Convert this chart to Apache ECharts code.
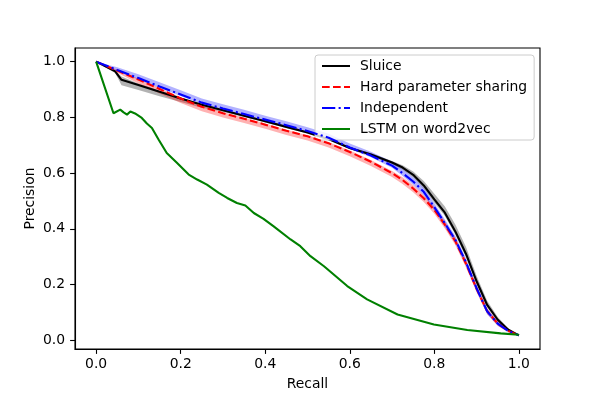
<!DOCTYPE html>
<html>
<head>
<meta charset="utf-8">
<script src="https://cdn.jsdelivr.net/npm/echarts@6/dist/echarts.min.js"></script>
<style>html,body{margin:0;padding:0;background:#fff}#c{width:600px;height:400px}</style>
</head>
<body>
<div id="c"></div>
<script>
const xTicks = [0, 0.2, 0.4, 0.6, 0.8, 1.0];
const yTicks = [0, 0.2, 0.4, 0.6, 0.8, 1.0];
const seriesNames = ['Sluice', 'Hard parameter sharing', 'Independent', 'LSTM on word2vec'];

const sluiceX = [0, 0.045, 0.06, 0.1, 0.15, 0.2, 0.25, 0.3, 0.35, 0.4, 0.45, 0.5, 0.55, 0.6, 0.65, 0.7, 0.725, 0.75, 0.775, 0.8, 0.825, 0.85, 0.875, 0.9, 0.925, 0.95, 0.975, 1.0];
const sluiceY = [1.0, 0.965, 0.935, 0.916, 0.892, 0.868, 0.845, 0.826, 0.806, 0.786, 0.766, 0.746, 0.722, 0.69, 0.667, 0.638, 0.62, 0.594, 0.556, 0.506, 0.458, 0.39, 0.31, 0.212, 0.127, 0.074, 0.038, 0.018];
const sluiceUp = [0, 0.003, 0.012, 0.006, 0.004, 0.003, 0.003, 0.003, 0.003, 0.003, 0.003, 0.003, 0.003, 0.004, 0.005, 0.006, 0.008, 0.012, 0.016, 0.02, 0.022, 0.025, 0.025, 0.02, 0.015, 0.01, 0.005, 0];
const sluiceLo = [0, 0.006, 0.02, 0.018, 0.016, 0.013, 0.01, 0.006, 0.005, 0.004, 0.004, 0.004, 0.004, 0.004, 0.005, 0.006, 0.008, 0.01, 0.012, 0.012, 0.012, 0.012, 0.012, 0.01, 0.008, 0.006, 0.003, 0];

const mtlX = [0, 0.05, 0.1, 0.15, 0.2, 0.25, 0.3, 0.35, 0.4, 0.45, 0.5, 0.55, 0.6, 0.65, 0.7, 0.725, 0.75, 0.775, 0.8, 0.825, 0.85, 0.875, 0.9, 0.925, 0.95, 0.975, 1.0];
const hardY = [1.0, 0.968, 0.936, 0.902, 0.868, 0.838, 0.815, 0.795, 0.774, 0.752, 0.732, 0.707, 0.676, 0.641, 0.6, 0.575, 0.545, 0.51, 0.468, 0.415, 0.355, 0.275, 0.185, 0.105, 0.06, 0.034, 0.018];
const hardUp = [0, 0.003, 0.004, 0.004, 0.004, 0.004, 0.004, 0.004, 0.004, 0.004, 0.004, 0.004, 0.005, 0.006, 0.008, 0.01, 0.012, 0.012, 0.012, 0.012, 0.012, 0.012, 0.012, 0.01, 0.008, 0.005, 0];
const hardLo = [0, 0.008, 0.014, 0.016, 0.016, 0.016, 0.015, 0.015, 0.015, 0.015, 0.015, 0.015, 0.015, 0.015, 0.014, 0.014, 0.014, 0.014, 0.014, 0.014, 0.014, 0.014, 0.012, 0.01, 0.008, 0.005, 0];

const indepY = [1.0, 0.97, 0.941, 0.911, 0.882, 0.853, 0.832, 0.812, 0.792, 0.772, 0.751, 0.727, 0.692, 0.663, 0.627, 0.6, 0.57, 0.533, 0.478, 0.42, 0.36, 0.28, 0.187, 0.104, 0.06, 0.034, 0.018];
const indepUp = [0, 0.01, 0.014, 0.015, 0.015, 0.015, 0.015, 0.015, 0.014, 0.014, 0.014, 0.014, 0.014, 0.014, 0.014, 0.014, 0.014, 0.014, 0.014, 0.014, 0.014, 0.014, 0.012, 0.01, 0.008, 0.005, 0];
const indepLo = [0, 0.004, 0.005, 0.005, 0.005, 0.005, 0.005, 0.005, 0.005, 0.005, 0.005, 0.005, 0.005, 0.006, 0.008, 0.01, 0.012, 0.012, 0.012, 0.012, 0.012, 0.012, 0.012, 0.01, 0.008, 0.005, 0];

const lstmX = [0, 0.041, 0.057, 0.065, 0.073, 0.081, 0.092, 0.108, 0.12, 0.132, 0.148, 0.167, 0.191, 0.219, 0.239, 0.262, 0.29, 0.31, 0.333, 0.353, 0.373, 0.396, 0.42, 0.46, 0.483, 0.507, 0.539, 0.594, 0.641, 0.713, 0.799, 0.878, 0.957, 1.0];
const lstmY = [1.0, 0.815, 0.828, 0.818, 0.81, 0.821, 0.814, 0.798, 0.778, 0.762, 0.72, 0.672, 0.637, 0.595, 0.577, 0.559, 0.529, 0.511, 0.493, 0.484, 0.457, 0.436, 0.409, 0.362, 0.338, 0.302, 0.266, 0.195, 0.147, 0.093, 0.057, 0.037, 0.025, 0.02];

const FONT = 'DejaVu Sans';
const FS = 13.9;

function pairs(xs, ys) { return xs.map((x, i) => [x, ys[i]]); }

// Shaded band: one polygon built from the data through the axis scales (api.coord)
function bandSeries(id, xs, ys, up, lo, color) {
  const data = xs.map((x, i) => [x, ys[i] - lo[i], ys[i] + up[i]]);
  return {
    name: id, type: 'custom', silent: true, z: 1,
    data: data,
    encode: { x: 0, y: [1, 2] },
    renderItem: function (params, api) {
      if (params.dataIndexInside !== 0) return null;
      const n = params.dataInsideLength;
      const top = [], bot = [];
      for (let i = 0; i < n; i++) {
        const x = api.value(0, i);
        top.push(api.coord([x, api.value(2, i)]));
        bot.push(api.coord([x, api.value(1, i)]));
      }
      const pts = top.concat(bot.reverse());
      return {
        type: 'polygon',
        shape: { points: pts },
        style: { fill: color, stroke: null }
      };
    }
  };
}

const series = [
  bandSeries('sb', sluiceX, sluiceY, sluiceUp, sluiceLo, 'rgba(0,0,0,0.3)'),
  bandSeries('hb', mtlX, hardY, hardUp, hardLo, 'rgba(255,0,0,0.3)'),
  bandSeries('ib', mtlX, indepY, indepUp, indepLo, 'rgba(0,0,255,0.3)'),
  { name: seriesNames[0], type: 'line', data: pairs(sluiceX, sluiceY), symbol: 'none', showSymbol: false, z: 3,
    lineStyle: { color: '#000000', width: 2.1 }, itemStyle: { color: '#000000' } },
  { name: seriesNames[1], type: 'line', data: pairs(mtlX, hardY), symbol: 'none', showSymbol: false, z: 4,
    lineStyle: { color: '#ff0000', width: 2.1, type: [7.7, 3.3] }, itemStyle: { color: '#ff0000' } },
  { name: seriesNames[2], type: 'line', data: pairs(mtlX, indepY), symbol: 'none', showSymbol: false, z: 4,
    lineStyle: { color: '#0000ff', width: 2.1, type: [13.3, 3.3, 2.1, 3.3] }, itemStyle: { color: '#0000ff' } },
  { name: seriesNames[3], type: 'line', data: pairs(lstmX, lstmY), symbol: 'none', showSymbol: false, z: 5,
    lineStyle: { color: '#008000', width: 2.1 }, itemStyle: { color: '#008000' } }
];

const chart = echarts.init(document.getElementById('c'), null, { renderer: 'canvas' });
chart.setOption({
  animation: false,
  backgroundColor: '#ffffff',
  textStyle: { fontFamily: FONT },
  grid: { left: 75, right: 60, top: 48, bottom: 51, show: true, borderColor: '#000', borderWidth: 1.1, backgroundColor: 'transparent' },
  xAxis: {
    type: 'value', min: -0.05, max: 1.05,
    name: 'Recall', nameLocation: 'middle', nameGap: 28, nameMoveOverlap: false,
    nameTextStyle: { fontFamily: FONT, fontSize: FS, color: '#000' },
    axisLine: { show: true, onZero: false, lineStyle: { color: '#000', width: 1.1 } },
    axisTick: { show: true, length: 4.9, lineStyle: { color: '#000', width: 1.1 }, customValues: xTicks },
    axisLabel: { show: true, margin: 8, fontFamily: FONT, fontSize: FS, color: '#000',
      customValues: xTicks, formatter: v => v.toFixed(1) },
    splitLine: { show: false }
  },
  yAxis: {
    type: 'value', min: -0.031, max: 1.049,
    name: 'Precision', nameLocation: 'middle', nameGap: 38, nameMoveOverlap: false,
    nameTextStyle: { fontFamily: FONT, fontSize: FS, color: '#000' },
    axisLine: { show: true, onZero: false, lineStyle: { color: '#000', width: 1.1 } },
    axisTick: { show: true, length: 4.9, lineStyle: { color: '#000', width: 1.1 }, customValues: yTicks },
    axisLabel: { show: true, margin: 10, fontFamily: FONT, fontSize: FS, color: '#000',
      customValues: yTicks, formatter: v => v.toFixed(1) },
    splitLine: { show: false }
  },
  legend: {
    data: seriesNames.map(n => ({ name: n, itemStyle: { opacity: 0 } })),
    orient: 'vertical',
    left: 315, top: 55,
    itemWidth: 28, itemHeight: 14, itemGap: 7,
    padding: [4, 7, 4, 6],
    borderColor: '#cccccc', borderWidth: 1, borderRadius: 3,
    backgroundColor: 'rgba(255,255,255,0.8)',
    selectedMode: false,
    textStyle: { fontFamily: FONT, fontSize: FS, color: '#000', padding: [0, 0, 0, 5] }
  },
  series: series
});
</script>
</body>
</html>
